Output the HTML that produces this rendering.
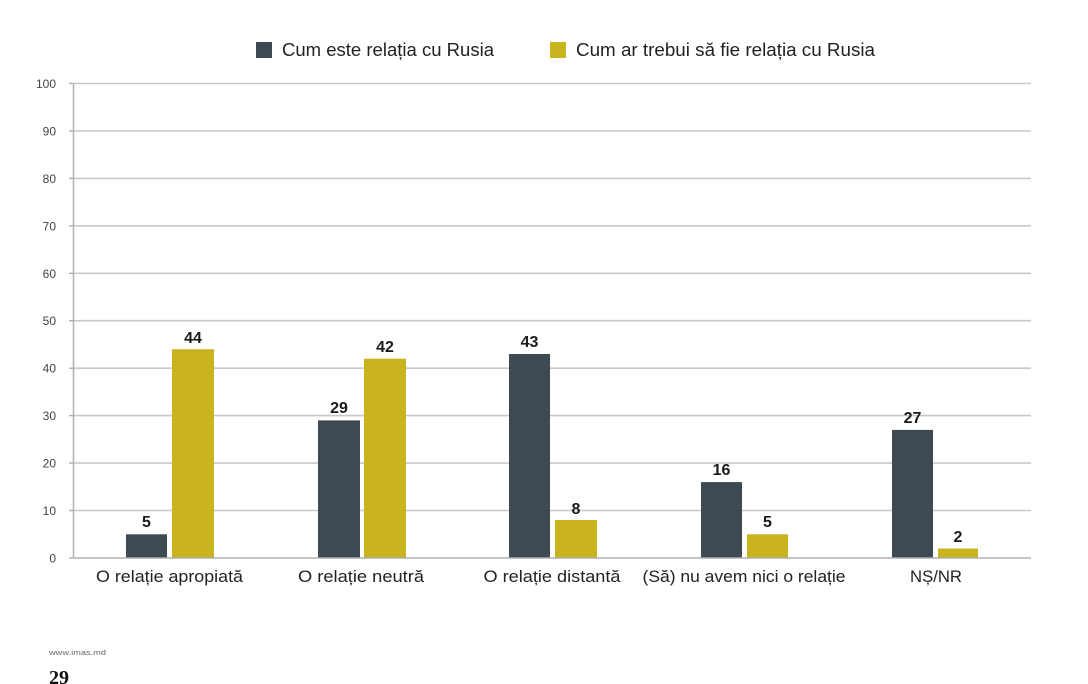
<!DOCTYPE html>
<html>
<head>
<meta charset="utf-8">
<style>
  html,body{margin:0;padding:0;background:#fff;}
  body{width:1088px;height:684px;overflow:hidden;}
  svg{display:block;}
  text{font-family:"Liberation Sans","DejaVu Sans",sans-serif;}
</style>
</head>
<body>
<svg width="1088" height="684" viewBox="0 0 1088 684" xmlns="http://www.w3.org/2000/svg">
  <rect x="0" y="0" width="1088" height="684" fill="#ffffff"/>

  <!-- Legend -->
  <rect x="256" y="42" width="16" height="16" fill="#3e4a52"/>
  <text x="282" y="56" font-size="18" fill="#222" textLength="212" lengthAdjust="spacingAndGlyphs">Cum este relația cu Rusia</text>
  <rect x="550" y="42" width="16" height="16" fill="#c9b420"/>
  <text x="576" y="56" font-size="18" fill="#222" textLength="299" lengthAdjust="spacingAndGlyphs">Cum ar trebui să fie relația cu Rusia</text>

  <!-- Gridlines -->
  <g stroke="#c8c8c8" stroke-width="1.6">
    <line x1="73" y1="83.5" x2="1031" y2="83.5"/>
    <line x1="73" y1="131" x2="1031" y2="131"/>
    <line x1="73" y1="178.4" x2="1031" y2="178.4"/>
    <line x1="73" y1="225.8" x2="1031" y2="225.8"/>
    <line x1="73" y1="273.3" x2="1031" y2="273.3"/>
    <line x1="73" y1="320.7" x2="1031" y2="320.7"/>
    <line x1="73" y1="368.2" x2="1031" y2="368.2"/>
    <line x1="73" y1="415.6" x2="1031" y2="415.6"/>
    <line x1="73" y1="463.1" x2="1031" y2="463.1"/>
    <line x1="73" y1="510.5" x2="1031" y2="510.5"/>
  </g>
  <!-- Tick marks -->
  <g stroke="#b0b0b0" stroke-width="1.4">
    <line x1="69" y1="83.5" x2="73" y2="83.5"/>
    <line x1="69" y1="131" x2="73" y2="131"/>
    <line x1="69" y1="178.4" x2="73" y2="178.4"/>
    <line x1="69" y1="225.8" x2="73" y2="225.8"/>
    <line x1="69" y1="273.3" x2="73" y2="273.3"/>
    <line x1="69" y1="320.7" x2="73" y2="320.7"/>
    <line x1="69" y1="368.2" x2="73" y2="368.2"/>
    <line x1="69" y1="415.6" x2="73" y2="415.6"/>
    <line x1="69" y1="463.1" x2="73" y2="463.1"/>
    <line x1="69" y1="510.5" x2="73" y2="510.5"/>
    <line x1="69" y1="558" x2="73" y2="558"/>
  </g>
  <!-- Axis -->
  <line x1="73.5" y1="83" x2="73.5" y2="558" stroke="#b0b0b0" stroke-width="1.5"/>

  <!-- Y tick labels -->
  <g font-size="12" fill="#444" text-anchor="end">
    <text x="56" y="88">100</text>
    <text x="56" y="135.5">90</text>
    <text x="56" y="183">80</text>
    <text x="56" y="230.3">70</text>
    <text x="56" y="277.8">60</text>
    <text x="56" y="325.2">50</text>
    <text x="56" y="372.7">40</text>
    <text x="56" y="420.1">30</text>
    <text x="56" y="467.6">20</text>
    <text x="56" y="515">10</text>
    <text x="56" y="562.5">0</text>
  </g>

  <!-- Bars: y = 558 - v*4.745 -->
  <g fill="#3e4a52">
    <rect x="126" y="534.3" width="41" height="23.7"/>
    <rect x="318" y="420.4" width="42" height="137.6"/>
    <rect x="509" y="354" width="41" height="204"/>
    <rect x="701" y="482.1" width="41" height="75.9"/>
    <rect x="892" y="429.9" width="41" height="128.1"/>
  </g>
  <g fill="#c9b420">
    <rect x="172" y="349.2" width="42" height="208.8"/>
    <rect x="364" y="358.7" width="42" height="199.3"/>
    <rect x="555" y="520" width="42" height="38"/>
    <rect x="747" y="534.3" width="41" height="23.7"/>
    <rect x="938" y="548.5" width="40" height="9.5"/>
  </g>

  <!-- Baseline -->
  <line x1="73" y1="558" x2="1031" y2="558" stroke="#b0b0b0" stroke-width="1.6"/>

  <!-- Value labels -->
  <g font-size="16" font-weight="bold" fill="#1a1a1a" text-anchor="middle">
    <text x="146.5" y="527">5</text>
    <text x="193" y="343">44</text>
    <text x="339" y="413">29</text>
    <text x="385" y="352">42</text>
    <text x="529.5" y="347">43</text>
    <text x="576" y="514">8</text>
    <text x="721.5" y="475">16</text>
    <text x="767.5" y="527">5</text>
    <text x="912.5" y="423">27</text>
    <text x="958" y="542">2</text>
  </g>

  <!-- Category labels -->
  <g font-size="17" fill="#222" text-anchor="middle">
    <text x="169.5" y="582" textLength="147" lengthAdjust="spacingAndGlyphs">O relație apropiată</text>
    <text x="361" y="582" textLength="126" lengthAdjust="spacingAndGlyphs">O relație neutră</text>
    <text x="552" y="582" textLength="137" lengthAdjust="spacingAndGlyphs">O relație distantă</text>
    <text x="744" y="582" textLength="203" lengthAdjust="spacingAndGlyphs">(Să) nu avem nici o relație</text>
    <text x="936" y="582" textLength="52" lengthAdjust="spacingAndGlyphs">NȘ/NR</text>
  </g>

  <!-- Footer -->
  <text x="49" y="655" font-size="7.5" fill="#666" textLength="57" lengthAdjust="spacingAndGlyphs">www.imas.md</text>
  <text x="49" y="684" font-size="20" font-weight="bold" fill="#111" style="font-family:'Liberation Serif',serif">29</text>
</svg>
</body>
</html>
